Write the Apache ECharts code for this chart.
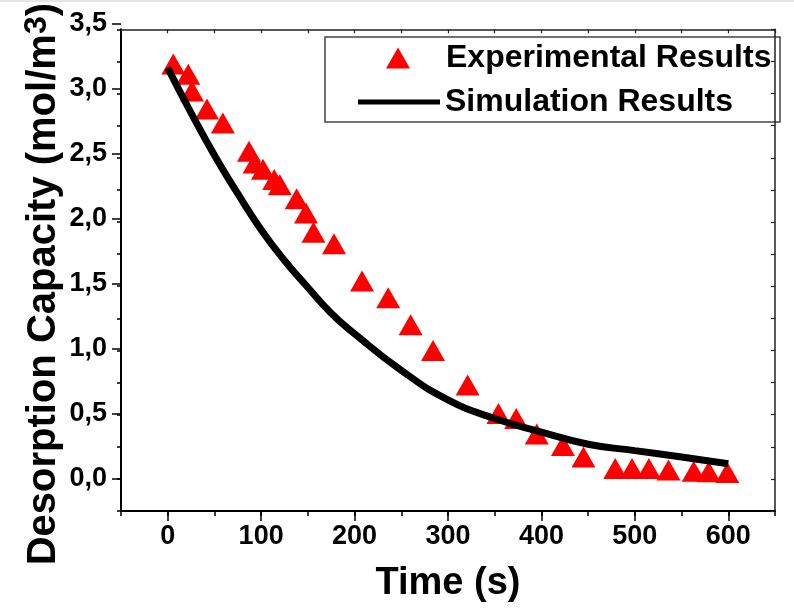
<!DOCTYPE html>
<html>
<head>
<meta charset="utf-8">
<script src="https://cdn.jsdelivr.net/npm/echarts@6/dist/echarts.min.js"></script>
<style>
html, body { margin: 0; padding: 0; background: #fff; }
#chart { width: 794px; height: 611px; }
</style>
</head>
<body>
<div id="chart"></div>
<script>
// measured points
var expTime = [6, 22, 26, 42, 59, 87, 93, 102, 114, 120, 138, 148, 156, 178, 208, 236, 260, 284, 321, 354, 373, 395, 423, 445, 479, 497, 515, 536, 563, 579, 599];
var expValue = [3.23, 3.15, 3.02, 2.88, 2.77, 2.55, 2.46, 2.41, 2.33, 2.29, 2.18, 2.07, 1.92, 1.83, 1.54, 1.41, 1.20, 1.00, 0.73, 0.51, 0.47, 0.35, 0.26, 0.17, 0.08, 0.08, 0.08, 0.07, 0.06, 0.055, 0.05];

var simTime = [0, 25, 50, 75, 100, 125, 150, 175, 200, 250, 300, 350, 400, 450, 500, 550, 600];
var simValue = [3.20, 2.85, 2.52, 2.22, 1.94, 1.70, 1.49, 1.29, 1.13, 0.845, 0.615, 0.47, 0.365, 0.27, 0.22, 0.17, 0.118];

var seriesNames = ['Experimental Results', 'Simulation Results'];

var font = "'Liberation Sans', Arial, sans-serif";

var chart = echarts.init(document.getElementById('chart'));

// grid 0 holds the data, grid 1 only carries the long ticks + labels (0..600, 0..3.5)
var gLeft = 121, gRight = 19, gTop = 24, gBottom = 100;
var pxX = (794 - gLeft - gRight) / 700;
var pxY = (611 - gTop - gBottom) / 3.75;

var option = {
    backgroundColor: '#fff',
    animation: false,
    grid: [
        { left: gLeft, right: gRight, top: gTop, bottom: gBottom },
        { left: gLeft + 50 * pxX, right: gRight + 50 * pxX, top: gTop, bottom: gBottom + 0.25 * pxY }
    ],
    legend: [{
        data: [seriesNames[0]],
        left: 386,
        top: 42,
        padding: 0,
        itemWidth: 24,
        itemHeight: 21,
        textStyle: { fontFamily: font, fontWeight: 'bold', fontSize: 32, color: '#000', padding: [0, 0, 0, 31] }
    }, {
        data: [{ name: seriesNames[1], icon: 'rect' }],
        left: 358,
        top: 86,
        padding: 0,
        itemWidth: 82,
        itemHeight: 5,
        textStyle: { fontFamily: font, fontWeight: 'bold', fontSize: 32, color: '#000' }
    }],
    graphic: [{
        type: 'rect',
        shape: { x: 325, y: 37, width: 455, height: 85 },
        style: { fill: 'transparent', stroke: '#444', lineWidth: 1.5 }
    }, {
        type: 'rect',
        shape: { x: 0, y: 0, width: 794, height: 2 },
        style: { fill: '#e6e6e6' }
    }],
    xAxis: [{
        gridIndex: 0,
        type: 'value',
        min: -50, max: 650, interval: 50,
        position: 'bottom',
        axisLine: { onZero: false, lineStyle: { color: '#000', width: 2 } },
        axisTick: { length: 5, lineStyle: { color: '#000', width: 1.5 } },
        axisLabel: { show: false },
        splitLine: { show: false },
        name: 'Time (s)',
        nameLocation: 'middle',
        nameGap: 54,
        nameTextStyle: { fontFamily: font, fontWeight: 'bold', fontSize: 38, color: '#000' }
    }, {
        gridIndex: 0,
        type: 'value',
        min: -50, max: 650, interval: 50,
        position: 'top',
        axisLine: { onZero: false, lineStyle: { color: '#222', width: 1.5 } },
        axisTick: { inside: true, length: 4, lineStyle: { color: '#222', width: 1.2 } },
        axisLabel: { show: false },
        splitLine: { show: false }
    }, {
        gridIndex: 1,
        type: 'value',
        min: 0, max: 600, interval: 100,
        position: 'bottom',
        offset: 0.25 * pxY,
        axisLine: { show: false, onZero: false },
        axisTick: { length: 10, lineStyle: { color: '#000', width: 1.5 } },
        axisLabel: { fontFamily: font, fontWeight: 'bold', fontSize: 27, color: '#000', margin: 12 },
        splitLine: { show: false }
    }],
    yAxis: [{
        gridIndex: 0,
        type: 'value',
        min: -0.25, max: 3.5, interval: 0.25,
        position: 'left',
        axisLine: { onZero: false, lineStyle: { color: '#000', width: 2 } },
        axisTick: { length: 4, lineStyle: { color: '#000', width: 1.5 } },
        axisLabel: { show: false },
        splitLine: { show: false },
        name: 'Desorption Capacity (mol/m{sup|3})',
        nameLocation: 'middle',
        nameGap: 54,
        nameTextStyle: {
            fontFamily: font, fontWeight: 'bold', fontSize: 40, color: '#000',
            padding: [0, 28, 0, 0],
            rich: {
                sup: { fontFamily: font, fontWeight: 'bold', fontSize: 32, color: '#000', verticalAlign: 'top', padding: [0, 0, 14, 0] }
            }
        }
    }, {
        gridIndex: 0,
        type: 'value',
        min: -0.25, max: 3.5, interval: 0.25,
        position: 'right',
        axisLine: { onZero: false, lineStyle: { color: '#222', width: 1.5 } },
        axisTick: { inside: true, length: 4, lineStyle: { color: '#222', width: 1.2 } },
        axisLabel: { show: false },
        splitLine: { show: false }
    }, {
        gridIndex: 1,
        type: 'value',
        min: 0, max: 3.5, interval: 0.5,
        position: 'left',
        offset: 50 * pxX,
        axisLine: { show: false, onZero: false },
        axisTick: { length: 9, lineStyle: { color: '#000', width: 1.5 } },
        axisLabel: {
            fontFamily: font, fontWeight: 'bold', fontSize: 27, color: '#000', margin: 14,
            formatter: function (v) { return v.toFixed(1).replace('.', ','); }
        },
        splitLine: { show: false }
    }],
    series: [{
        name: seriesNames[0],
        type: 'scatter',
        xAxisIndex: 0,
        yAxisIndex: 0,
        symbol: 'triangle',
        symbolSize: [24, 21],
        itemStyle: { color: '#ff0000', opacity: 1 },
        data: expTime.map(function (t, i) { return [t, expValue[i]]; })
    }, {
        name: seriesNames[1],
        type: 'line',
        xAxisIndex: 0,
        yAxisIndex: 0,
        smooth: true,
        symbol: 'none',
        lineStyle: { color: '#000', width: 7 },
        itemStyle: { color: '#000' },
        data: simTime.map(function (t, i) { return [t, simValue[i]]; })
    }]
};

chart.setOption(option);
</script>
</body>
</html>
